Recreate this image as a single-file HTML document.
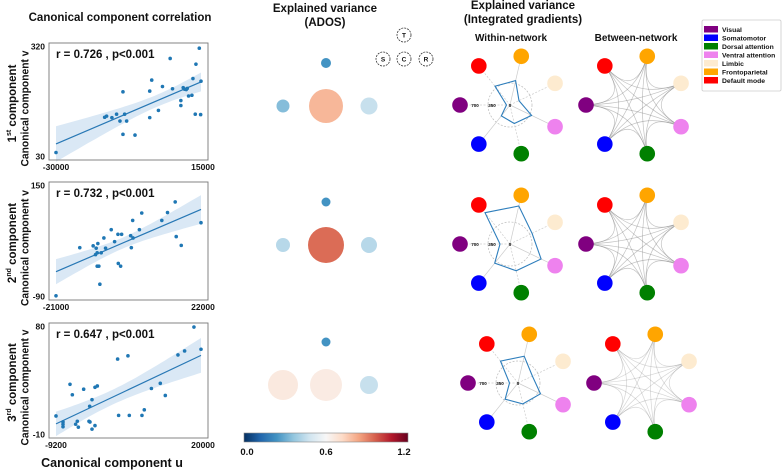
<!DOCTYPE html>
<html><head><meta charset="utf-8">
<style>
html,body{margin:0;padding:0;background:#fff;}
svg{display:block;font-family:"Liberation Sans",Arial,sans-serif;}
text{font-weight:bold;fill:#111;}
</style></head>
<body>
<svg id="fig" width="784" height="471" viewBox="0 0 784 471" xmlns="http://www.w3.org/2000/svg">
<defs>
<linearGradient id="cbgrad" x1="0" x2="1" y1="0" y2="0">
<stop offset="0" stop-color="#053061"/><stop offset="0.1" stop-color="#2166ac"/><stop offset="0.2" stop-color="#4393c3"/><stop offset="0.3" stop-color="#92c5de"/><stop offset="0.4" stop-color="#d1e5f0"/><stop offset="0.5" stop-color="#f7f7f7"/><stop offset="0.6" stop-color="#fddbc7"/><stop offset="0.7" stop-color="#f4a582"/><stop offset="0.8" stop-color="#d6604d"/><stop offset="0.9" stop-color="#b2182b"/><stop offset="1" stop-color="#67001f"/>
</linearGradient>
</defs>
<text x="120" y="21" font-size="11.5" text-anchor="middle">Canonical component correlation</text>
<text x="325" y="12" font-size="11.5" text-anchor="middle">Explained variance</text>
<text x="325" y="26" font-size="11.5" text-anchor="middle">(ADOS)</text>
<text x="523" y="9" font-size="11.5" text-anchor="middle">Explained variance</text>
<text x="523" y="23" font-size="11.5" text-anchor="middle">(Integrated gradients)</text>
<text x="511" y="41" font-size="10" text-anchor="middle">Within-network</text>
<text x="636" y="41" font-size="10" text-anchor="middle">Between-network</text>
<text x="112" y="467" font-size="12.5" text-anchor="middle">Canonical component u</text>
<g id="scatters"></g>
<g id="ados"></g>
<g id="nets"></g>
<g id="legend"></g>
<g id="colorbar"></g>
</svg>
<script>
// ---------- Scatter data ----------
const p1X=[-30000,-14900,-14300,-12650,-11200,-10150,-8700,-8080,-9220,-9220,-5480,-910,-910,-290,1790,3040,5430,6160,8750,8750,9480,9900,10420,10730,11140,12180,12500,13220,13430,14470,14890,15000];
const p1Y=[41,134,137,133,142,124,142,124,201,89,87,203,133,232,152,215,289,209,178,165,212,208,207,210,190,192,236,142,274,316,141,229];
const p2X=[-21000,-13950,-9980,-9080,-8590,-9280,-8790,-7590,-6800,-6300,-8790,-8290,-7990,-4620,-3620,-2630,-2530,-1830,-1540,1140,1340,1740,1840,3730,4430,10380,12070,14350,14650,16140,22000];
const p2Y=[-88,16,20,15,25,1,5,5,37,15,-24,-24,-63,55,29,45,-18,-24,45,42,16,75,37,55,91,75,92,115,40,21,70];
const p3X=[-9200,-7790,-7790,-7790,-6380,-5910,-5240,-4910,-4700,-3630,-2560,-2360,-2420,-1950,-1950,-1350,-1350,-880,3210,3410,5290,5560,8110,8580,10010,11800,12810,15360,16700,18580,20000];
const p3Y=[5.6,0.6,-1.3,-3.4,32,23.3,-1.3,1.2,-3.7,27.9,1.2,0.6,13.7,19.2,-5.4,-2.4,29.5,30.6,53,6.1,55.7,6.1,6.1,10.7,28.5,32.8,22.7,56.5,59.8,79.7,61.2];
const xTicks=[["-30000","15000"],["-21000","22000"],["-9200","20000"]];
const yTicks=[["320","30"],["150","-90"],["80","-10"]];
const xDomains=[[-30000,15000],[-21000,22000],[-9200,20000]];
const yDomains=[[30,320],[-90,150],[-10,80]];
const rLabels=["r = 0.726 ,  p<0.001","r = 0.732 ,  p<0.001","r = 0.647 ,  p<0.001"];
const compLabels=[["1","st"],["2","nd"],["3","rd"]];

// ---------- ADOS data ----------
const adosVals=[[0.24,0.34,0.8,0.46],[0.24,0.43,0.94,0.43],[0.24,0.66,0.65,0.46]];
const adosSizes=[[5,6.5,17,8.5],[4.5,7,18,8],[4.5,15,16,9]];
const adosLetters=["T","S","C","R"];

// ---------- Network data ----------
const netNames=["Visual","Somatomotor","Dorsal attention","Ventral attention","Limbic","Frontoparietal","Default mode"];
const netColors=["#800080","#0000ff","#008000","#ee82ee","#fdebd0","#ffa500","#ff0000"];
const radarOrder=[0,6,5,4,3,2,1];
const radar1=[70,480,500,200,480,380,280];
const radar2=[200,800,780,490,690,550,490];
const radar3=[170,560,550,320,500,430,415];
const radarTicks=["700","350","0"];
const edgeOpacity=[0.45,0.45,0.3];

const NS="http://www.w3.org/2000/svg";
function mk(tag,attrs,parent){const e=document.createElementNS(NS,tag);for(const k in attrs)e.setAttribute(k,attrs[k]);parent.appendChild(e);return e;}

// ---------- Scatter plots ----------
const sg=document.getElementById('scatters');
const panels=[{top:43,bottom:160},{top:182,bottom:300},{top:323,bottom:438}];
const allX=[p1X,p2X,p3X], allY=[p1Y,p2Y,p3Y];
panels.forEach((pn,i)=>{
  const g=mk('g',{},sg);
  
  
  const X0=56,X1=201,Y0=pn.bottom-3.3,Y1=pn.top+3.7;
  const xd=xDomains[i], yd=yDomains[i];
  const sx=v=>X0+(v-xd[0])/(xd[1]-xd[0])*(X1-X0);
  const sy=v=>Y0-(v-yd[0])/(yd[1]-yd[0])*(Y0-Y1);
  const xs=allX[i], ys=allY[i], n=xs.length;
  const mx=xs.reduce((a,b)=>a+b)/n, my=ys.reduce((a,b)=>a+b)/n;
  let sxx=0,sxy=0;xs.forEach((x,k)=>{sxx+=(x-mx)**2;sxy+=(x-mx)*(ys[k]-my);});
  const b=sxy/sxx,a=my-b*mx;
  let sse=0;xs.forEach((x,k)=>{sse+=(ys[k]-a-b*x)**2;});
  const s=Math.sqrt(sse/(n-2));
  const xmin=Math.min(...xs),xmax=Math.max(...xs);
  const up=[],lo=[];
  for(let k=0;k<=40;k++){const x=xmin+(xmax-xmin)*k/40;const h=2.04*s*Math.sqrt(1/n+(x-mx)**2/sxx);const yy=a+b*x;up.push(sx(x).toFixed(1)+','+sy(yy+h).toFixed(1));lo.unshift(sx(x).toFixed(1)+','+sy(yy-h).toFixed(1));}
  const band=mk('polygon',{points:up.concat(lo).join(' '),fill:'#c6dbef',opacity:'0.65'},g);
  
  
  const ln=mk('line',{x1:sx(xmin),y1:sy(a+b*xmin),x2:sx(xmax),y2:sy(a+b*xmax),stroke:'#2878b5','stroke-width':1.2},g);
  
  
  xs.forEach((x,k)=>{
    const c=mk('circle',{cx:sx(x),cy:sy(ys[k]),r:1.8,fill:'#1f77b4'},g);
    
    
  });
  const box=mk('rect',{x:49,y:pn.top,width:159,height:pn.bottom-pn.top,fill:'none',stroke:'#777','stroke-width':0.9},g);
  
  
  const t1=mk('text',{x:45,y:Y1+3,'font-size':8.5,'text-anchor':'end'},g);t1.textContent=yTicks[i][0];
  
  
  const t2=mk('text',{x:45,y:Y0+3,'font-size':8.5,'text-anchor':'end'},g);t2.textContent=yTicks[i][1];
  
  
  const t3=mk('text',{x:X0,y:pn.bottom+10,'font-size':8.5,'text-anchor':'middle'},g);t3.textContent=xTicks[i][0];
  
  
  const t4=mk('text',{x:203,y:pn.bottom+10,'font-size':8.5,'text-anchor':'middle'},g);t4.textContent=xTicks[i][1];
  
  
  const an=mk('text',{x:56,y:pn.top+15,'font-size':11.5},g);an.textContent=rLabels[i];
  
  
  const cy=(pn.top+pn.bottom)/2;
  const l1=mk('text',{x:0,y:0,'font-size':11.5,'text-anchor':'middle',transform:`translate(16,${cy+2}) rotate(-90)`},g);
  l1.innerHTML=compLabels[i][0]+'<tspan font-size="7" dy="-5">'+compLabels[i][1]+'</tspan><tspan dy="5"> component</tspan>';
  
  
  const l2=mk('text',{x:0,y:0,'font-size':11,'text-anchor':'middle',textLength:116,lengthAdjust:'spacingAndGlyphs',transform:`translate(28.5,${cy+7}) rotate(-90)`},g);
  l2.textContent='Canonical component v';
  
  
});

// ---------- colormap ----------
const cmapStops=["#053061","#2166ac","#4393c3","#92c5de","#d1e5f0","#f7f7f7","#fddbc7","#f4a582","#d6604d","#b2182b","#67001f"];
function hex(h){return [1,3,5].map(i=>parseInt(h.substr(i,2),16));}
function cmap(v){let t=Math.max(0,Math.min(1,v/1.2))*10;const i=Math.min(9,Math.floor(t));const f=t-i;const a=hex(cmapStops[i]),b=hex(cmapStops[i+1]);return 'rgb('+a.map((c,k)=>Math.round(c+(b[k]-c)*f)).join(',')+')';}

// ---------- ADOS ----------
const ag=document.getElementById('ados');
const rowCY=[106,245,385];
rowCY.forEach((cy,i)=>{
  const pos=[[326,cy-43],[283,cy],[326,cy],[369,cy]];
  pos.forEach((p,k)=>{
    const c=mk('circle',{cx:p[0],cy:p[1],r:adosSizes[i][k],fill:cmap(adosVals[i][k])},ag);
    
    
  });
});
[[404,35,"T"],[383,59,"S"],[404,59,"C"],[426,59,"R"]].forEach(p=>{
  const c=mk('circle',{cx:p[0],cy:p[1],r:7,fill:'#fff',stroke:'#333','stroke-width':0.8,'stroke-dasharray':'2,1'},ag);
  
  
  const t=mk('text',{x:p[0],y:p[1]+2.5,'font-size':6.5,'text-anchor':'middle'},ag);t.textContent=p[2];
  
  
});

// ---------- colorbar ----------
const cg=document.getElementById('colorbar');
const cb=mk('rect',{x:244,y:433,width:164,height:9,fill:'url(#cbgrad)',stroke:'#888','stroke-width':0.6},cg);


[["0.0",247],["0.6",326],["1.2",404]].forEach(p=>{
  const t=mk('text',{x:p[1],y:455,'font-size':9.5,'text-anchor':'middle'},cg);t.textContent=p[0];
  
  
});

// ---------- networks ----------
const ng=document.getElementById('nets');
const radars=[radar1,radar2,radar3];
const netCX=[510,510,518], netCY=[105,244,383];
const ang=[180,128.6,77,25.7,-25.7,-77,-128.6].map(d=>d*Math.PI/180);
const NR=50;
for(let i=0;i<3;i++){
  const cx=netCX[i],cy=netCY[i];
  const gw=mk('g',{},ng);
  
  
  for(let k=0;k<7;k++){mk('line',{x1:cx,y1:cy,x2:cx+NR*Math.cos(ang[k]),y2:cy+NR*Math.sin(ang[k]),stroke:'#ccc','stroke-width':0.7,'stroke-dasharray':k%2?'':'2,1.5'},gw);}
  mk('circle',{cx:cx,cy:cy,r:22,fill:'none',stroke:'#bbb','stroke-width':0.7,'stroke-dasharray':'2,1.5'},gw);
  [35,18,0].forEach((d,k)=>{const t=mk('text',{x:cx-d,y:cy+2,'font-size':4.5,'text-anchor':'middle'},gw);t.textContent=radarTicks[k];});
  const pts=radarOrder.map((ni,j)=>{const r=radars[i][j]/20;return (cx+r*Math.cos(ang[ni])).toFixed(1)+','+(cy+r*Math.sin(ang[ni])).toFixed(1);});
  const pg=mk('polygon',{points:pts.join(' '),fill:'none',stroke:'#2e7ebc','stroke-width':1.1},gw);
  
  
  for(let k=0;k<7;k++){
    const c=mk('circle',{cx:cx+NR*Math.cos(ang[k]),cy:cy+NR*Math.sin(ang[k]),r:7.8,fill:netColors[k]},gw);
    
    
  }
  const bx=cx+126;
  const gb=mk('g',{},ng);
  
  
  for(let a=0;a<7;a++)for(let b=a+1;b<7;b++){
    const x1=bx+NR*Math.cos(ang[a]),y1=cy+NR*Math.sin(ang[a]),x2=bx+NR*Math.cos(ang[b]),y2=cy+NR*Math.sin(ang[b]);
    const qx=bx+((x1+x2)/2-bx)*0.12,qy=cy+((y1+y2)/2-cy)*0.12;
    mk('path',{d:`M${x1},${y1} Q${qx},${qy} ${x2},${y2}`,fill:'none',stroke:'#777','stroke-width':0.7,opacity:edgeOpacity[i]},gb);
  }
  for(let k=0;k<7;k++){
    const c=mk('circle',{cx:bx+NR*Math.cos(ang[k]),cy:cy+NR*Math.sin(ang[k]),r:7.8,fill:netColors[k]},gb);
    
    
  }
}

// ---------- legend ----------
const lg=document.getElementById('legend');
const lb=mk('rect',{x:702,y:20,width:79,height:71,fill:'#fff',stroke:'#ccc','stroke-width':0.8,rx:1.5},lg);


[0,1,2,3,4,5,6].forEach((ni,j)=>{
  const y=26+j*8.5;
  const s=mk('rect',{x:704,y:y,width:14,height:6.5,fill:netColors[ni]},lg);
  
  
  const t=mk('text',{x:722,y:y+5.8,'font-size':6.8},lg);t.textContent=netNames[ni];
  
  
});
</script>
</body></html>
